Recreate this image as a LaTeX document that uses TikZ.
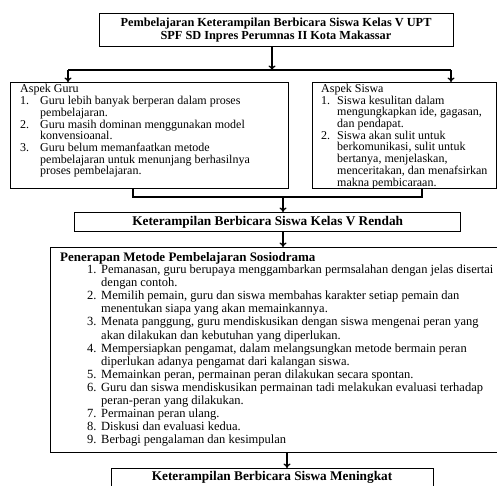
\documentclass[tikz,border=0pt]{standalone}
\usepackage{fontspec}
\setmainfont{Liberation Serif}
\usetikzlibrary{arrows.meta}
\begin{document}
\begin{tikzpicture}[x=1pt,y=-1pt,
  box/.style={draw, line width=1.3pt, inner sep=0pt, anchor=north west},
  ln/.style={line width=1.3pt},
  arr/.style={line width=1.3pt, -{To[length=4.5pt,width=7pt]}},
  txt/.style={anchor=base west, inner sep=0pt}]
\useasboundingbox (0,0) rectangle (497,486);
% boxes
\node[box, minimum width=354pt, minimum height=33pt] (top) at (99,13) {};
\node[box, minimum width=278pt, minimum height=106pt] (guru) at (10,82) {};
\node[box, minimum width=184pt, minimum height=106pt] (siswa) at (311.5,82) {};
\node[box, minimum width=386pt, minimum height=19pt] (rendah) at (74,212) {};
\node[box, minimum width=452pt, minimum height=205pt] (pen) at (50,247) {};
\node[box, minimum width=322pt, minimum height=40pt] (ming) at (111,468) {};
% texts
\node[font=\bfseries\fontsize{12.3}{12.5}\selectfont, align=center, inner sep=0pt] (topT) at (276,30) {Pembelajaran Keterampilan Berbicara Siswa Kelas V UPT\\SPF SD Inpres Perumnas II Kota Makassar};
\node[txt, font=\fontsize{12}{11.2}\selectfont] (guruT) at (20,93) {\begin{tabular}[t]{@{}p{20pt}@{}l@{}}
\multicolumn{2}{@{}l@{}}{Aspek Guru}\\
1. & Guru lebih banyak berperan dalam proses\\
 & pembelajaran.\\
2. & Guru masih dominan menggunakan model\\
 & konvensioanal.\\
3. & Guru belum memanfaatkan metode\\
 & pembelajaran untuk menunjang berhasilnya\\
 & proses pembelajaran.
\end{tabular}};
\node[txt, font=\fontsize{12}{11.2}\selectfont] (siswaT) at (321,92.5) {\begin{tabular}[t]{@{}p{16pt}@{}l@{}}
\multicolumn{2}{@{}l@{}}{Aspek Siswa}\\
1. & Siswa kesulitan dalam\\
 & mengungkapkan ide, gagasan,\\
 & dan pendapat.\\
2. & Siswa akan sulit untuk\\
 & berkomunikasi, sulit untuk\\
 & bertanya, menjelaskan,\\
 & menceritakan, dan menafsirkan\\
 & makna pembicaraan.
\end{tabular}};
\node[font=\bfseries\fontsize{13.3}{14}\selectfont, inner sep=0pt] (rendahT) at (rendah.center) {Keterampilan Berbicara Siswa Kelas V Rendah};
\node[txt, font=\bfseries\fontsize{13}{13}\selectfont] (penH) at (60,261) {Penerapan Metode Pembelajaran Sosiodrama};
\node[txt, font=\fontsize{12.5}{13.1}\selectfont] (penT) at (87,273.5) {\begin{tabular}[t]{@{}p{14pt}@{}l@{}}
1. & Pemanasan, guru berupaya menggambarkan permsalahan dengan jelas disertai\\
 & dengan contoh.\\
2. & Memilih pemain, guru dan siswa membahas karakter setiap pemain dan\\
 & menentukan siapa yang akan memainkannya.\\
3. & Menata panggung, guru mendiskusikan dengan siswa mengenai peran yang\\
 & akan dilakukan dan kebutuhan yang diperlukan.\\
4. & Mempersiapkan pengamat, dalam melangsungkan metode bermain peran\\
 & diperlukan adanya pengamat dari kalangan siswa.\\
5. & Memainkan peran, permainan peran dilakukan secara spontan.\\
6. & Guru dan siswa mendiskusikan permainan tadi melakukan evaluasi terhadap\\
 & peran-peran yang dilakukan.\\
7. & Permainan peran ulang.\\
8. & Diskusi dan evaluasi kedua.\\
9. & Berbagi pengalaman dan kesimpulan
\end{tabular}};
\node[font=\bfseries\fontsize{13.3}{14}\selectfont, inner sep=0pt] (mingT) at (272,477) {Keterampilan Berbicara Siswa Meningkat};
% connectors
\coordinate (sp) at (272,70);
\coordinate (spl) at (68,70);
\coordinate (spr) at (451,70);
\draw[arr] (sp |- top.south) -- (sp);
\draw[ln] (spl) -- (spr);
\draw[arr] (spl) -- (spl |- guru.north);
\draw[arr] (spr) -- (spr |- siswa.north);
\coordinate (ml) at (133,197);
\coordinate (mr) at (422,197);
\coordinate (mm) at (283,197);
\draw[ln] (ml |- guru.south) -- (ml) -- (mr) -- (mr |- siswa.south);
\draw[arr] (mm) -- (mm |- rendah.north);
\coordinate (rp) at (283,0);
\draw[arr] (rp |- rendah.south) -- (rp |- pen.north);
\coordinate (pm) at (287,0);
\draw[arr] (pm |- pen.south) -- (pm |- ming.north);
\end{tikzpicture}
\end{document}
